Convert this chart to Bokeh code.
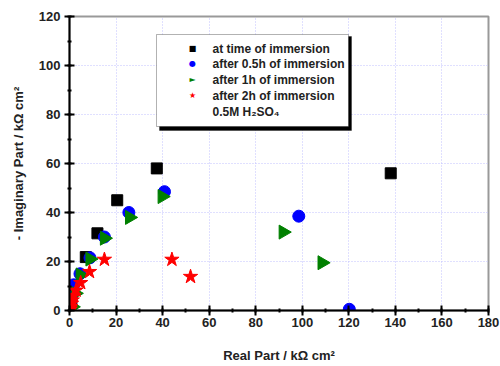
import math
from bokeh.plotting import figure
from bokeh.models import Range1d, FixedTicker, BoxAnnotation, Label
from bokeh.embed import file_html
from bokeh.resources import INLINE

# ---- data (kOhm cm^2) ----
black_x = [0.3, 0.8, 1.5, 7.0, 12.0, 20.5, 37.5, 138.0]
black_y = [1.5, 4.5, 9.5, 21.8, 31.5, 45.0, 58.0, 56.0]

blue_x = [0.3, 0.8, 1.8, 4.5, 8.8, 15.0, 25.5, 40.8, 98.5, 120.2]
blue_y = [2.0, 5.5, 10.5, 15.0, 21.5, 30.0, 40.0, 48.5, 38.5, 0.5]

green_x = [1.2, 2.5, 4.6, 8.8, 15.0, 25.8, 39.8, 91.8, 108.5]
green_y = [1.5, 7.0, 14.5, 21.0, 29.5, 38.0, 46.5, 32.0, 19.5]

red_x = [0.3, 0.5, 0.8, 1.2, 1.8, 2.8, 4.8, 8.6, 15.0, 44.0, 52.0]
red_y = [0.5, 1.5, 2.8, 4.2, 6.0, 8.2, 11.3, 15.8, 20.8, 20.8, 13.8]

series_labels = ["at time of immersion", "after 0.5h of immersion",
                 "after 1h of immersion", "after 2h of immersion"]
series_colors = ["black", "#0000ff", "#008000", "#ff0000"]
legend_symbols = ["\u25a0", "\u25cf", "\u25ba", "\u2605"]
note_label = "0.5M H\u2082SO\u2084"
x_ticks = list(range(0, 181, 20))
y_ticks = list(range(0, 121, 20))

FONT = "Liberation Sans"

p = figure(width=500, height=366, output_backend="svg", toolbar_location=None,
           x_range=Range1d(0, 180), y_range=Range1d(0, 120),
           min_border_left=69, min_border_right=12, min_border_top=16,
           min_border_bottom=56, background_fill_color="white",
           border_fill_color="white")

p.outline_line_color = "#999999"
p.outline_line_width = 2

for ax in (p.xaxis[0], p.yaxis[0]):
    ax.axis_line_color = "black"
    ax.axis_line_width = 2
    ax.major_tick_line_color = "black"
    ax.major_tick_line_width = 2
    ax.major_tick_in = 5
    ax.major_tick_out = 5
    ax.minor_tick_line_color = "black"
    ax.minor_tick_line_width = 2
    ax.minor_tick_in = 2
    ax.minor_tick_out = 2
    ax.major_label_text_font = FONT
    ax.major_label_text_font_style = "bold"
    ax.major_label_text_font_size = "13px"
    ax.major_label_text_color = "#222222"
    ax.axis_label_text_font = FONT
    ax.axis_label_text_font_style = "bold"
    ax.axis_label_text_font_size = "13px"
    ax.axis_label_text_color = "#222222"

p.xaxis[0].ticker = FixedTicker(ticks=x_ticks, minor_ticks=list(range(0, 181, 10)))
p.yaxis[0].ticker = FixedTicker(ticks=y_ticks, minor_ticks=list(range(0, 121, 10)))
p.xaxis[0].axis_label = "Real Part / k\u03a9 cm\u00b2"
p.yaxis[0].axis_label = "- Imaginary Part / k\u03a9 cm\u00b2"
p.xaxis[0].axis_label_standoff = 18
p.yaxis[0].axis_label_standoff = 10
p.xaxis[0].major_label_standoff = 2
p.yaxis[0].major_label_standoff = 4

for g in (p.xgrid[0], p.ygrid[0]):
    g.grid_line_color = "#c0c0ff"
    g.grid_line_dash = "1 2"
    g.grid_line_width = 1

p.scatter(black_x, black_y, marker="square", size=11, color=series_colors[0])
p.scatter(blue_x, blue_y, marker="circle", size=12, color=series_colors[1])
p.scatter(green_x, green_y, marker="triangle", size=14, color=series_colors[2],
          angle=-math.pi / 2)
p.scatter(red_x, red_y, marker="star", size=15, color=series_colors[3])

# legend box with shadow (screen units, frame-relative)
shadow = BoxAnnotation(left=90, right=282, top=274, bottom=180,
                       left_units="screen", right_units="screen",
                       top_units="screen", bottom_units="screen",
                       fill_color="black", fill_alpha=1, line_color="black")
box = BoxAnnotation(left=87, right=279, top=276, bottom=184,
                    left_units="screen", right_units="screen",
                    top_units="screen", bottom_units="screen",
                    fill_color="white", fill_alpha=1, line_color="black", line_width=1)
p.add_layout(shadow)
p.add_layout(box)

row_y = [262, 247, 231, 215]
for sym, col, lab, yy in zip(legend_symbols, series_colors, series_labels, row_y):
    p.add_layout(Label(x=123, y=yy, x_units="screen", y_units="screen", text=sym,
                       text_font="DejaVu Sans", text_font_size="8px",
                       text_color=col, text_align="center", text_baseline="middle"))
    p.add_layout(Label(x=143, y=yy, x_units="screen", y_units="screen", text=lab,
                       text_font=FONT, text_font_style="bold", text_font_size="12px",
                       text_color="#222222", text_baseline="middle"))

p.add_layout(Label(x=143, y=199, x_units="screen", y_units="screen", text=note_label,
                   text_font=FONT, text_font_style="bold", text_font_size="12px",
                   text_color="#222222", text_baseline="middle"))

open("out.html", "w").write(file_html(p, INLINE))
